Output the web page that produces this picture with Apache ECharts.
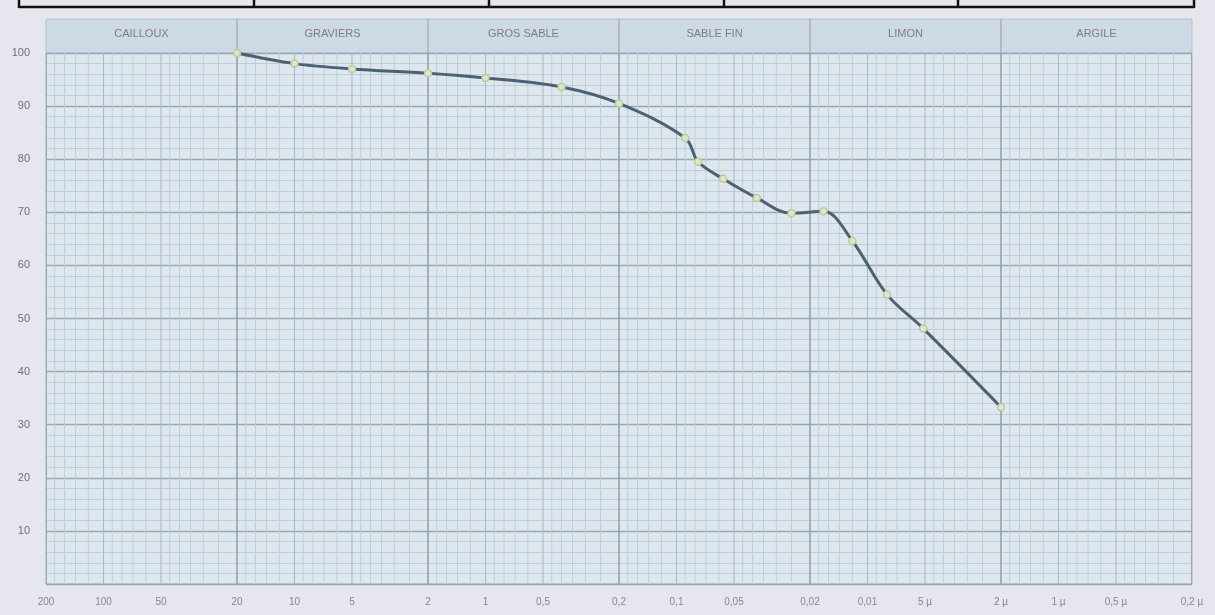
<!DOCTYPE html>
<html>
<head>
<meta charset="utf-8">
<script src="https://cdn.jsdelivr.net/npm/echarts@6/dist/echarts.min.js"></script>
<style>
html,body{margin:0;padding:0;background:#e6e7ee;}
#c{width:1215px;height:615px;}
</style>
</head>
<body>
<div id="c"></div>
<script>
// grain size (mm) and cumulative passing (%)
const sizes = [20, 10, 5, 2, 1, 0.4, 0.2, 0.09, 0.077, 0.057, 0.038, 0.025, 0.017, 0.012, 0.0079, 0.0051, 0.002];
const passing = [100, 98, 97, 96.2, 95.3, 93.6, 90.5, 84, 79.5, 76.3, 72.7, 69.8, 70.2, 64.6, 54.5, 48.1, 33.3];

// zones (upper / lower bound, mm)
const zoneNames = ['CAILLOUX', 'GRAVIERS', 'GROS SABLE', 'SABLE FIN', 'LIMON', 'ARGILE'];
const zoneUpper = [200, 20, 2, 0.2, 0.02, 0.002];
const zoneLower = [20, 2, 0.2, 0.02, 0.002, 0.0002];

// x tick labels
const tickValues = [200, 100, 50, 20, 10, 5, 2, 1, 0.5, 0.2, 0.1, 0.05, 0.02, 0.01, 0.005, 0.002, 0.001, 0.0005, 0.0002];
const tickLabels = ['200', '100', '50', '20', '10', '5', '2', '1', '0,5', '0,2', '0,1', '0,05', '0,02', '0,01', '5 µ', '2 µ', '1 µ', '0,5 µ', '0,2 µ'];

// log-paper mantissas for vertical grid
const mantissas = [1, 1.2, 1.4, 1.6, 1.8, 2, 2.5, 3, 3.5, 4, 4.5, 5, 6, 7, 8, 9];
const decades = [-4, -3, -2, -1, 0, 1, 2];

const XMIN = 0.0002, XMAX = 200;

// [value, level] level 2 = zone boundary, 1 = medium, 0 = light
const gridLines = [];
decades.forEach(function (d) {
  mantissas.forEach(function (m) {
    const v = m * Math.pow(10, d);
    if (v < XMIN * 0.999 || v > XMAX * 1.001) return;
    const lvl = (m === 2) ? 2 : ((m === 1 || m === 5) ? 1 : 0);
    gridLines.push([v, lvl]);
  });
});
const lvlStyle = [
  { stroke: '#c0ced8', lineWidth: 1 },
  { stroke: '#a9bbc8', lineWidth: 1.1 },
  { stroke: '#8ea3b3', lineWidth: 1.6 }
];

function vLine(yLo, yHi, styleFn) {
  return function (params, api) {
    const v = api.value(0);
    const p0 = api.coord([v, yLo]);
    const p1 = api.coord([v, yHi]);
    return { type: 'line', shape: { x1: p0[0], y1: p0[1], x2: p1[0], y2: p1[1] }, style: styleFn(api) };
  };
}

const chart = echarts.init(document.getElementById('c'));
chart.setOption({
  backgroundColor: '#e6e7ee',
  animation: false,
  grid: [
    { left: 46, right: 23, top: 53, bottom: 31, show: true, backgroundColor: '#dfe7ee', borderColor: '#9fb1bf', borderWidth: 1 },
    { left: 46, right: 23, top: 19, height: 34, show: true, backgroundColor: '#cdd9e4', borderColor: '#b3c3cf', borderWidth: 1 }
  ],
  xAxis: [
    { type: 'log', logBase: 10, min: XMIN, max: XMAX, inverse: true, gridIndex: 0,
      axisLine: { show: false }, axisTick: { show: false }, axisLabel: { show: false }, splitLine: { show: false } },
    { type: 'log', logBase: 10, min: XMIN, max: XMAX, inverse: true, gridIndex: 1,
      axisLine: { show: false }, axisTick: { show: false }, axisLabel: { show: false }, splitLine: { show: false } }
  ],
  yAxis: [
    { type: 'value', min: 0, max: 100, interval: 10, gridIndex: 0,
      axisLine: { show: false }, axisTick: { show: false },
      axisLabel: { color: '#6f6f78', fontSize: 11, fontFamily: 'Liberation Sans, Arial', margin: 16,
        formatter: function (v) { return v === 0 ? '' : String(v); } },
      splitLine: { show: true, lineStyle: { color: '#93a8b8', width: 1.4 } },
      minorTick: { show: false, splitNumber: 5 },
      minorSplitLine: { show: true, lineStyle: { color: '#c0cdd8', width: 1 } } },
    { type: 'value', min: 0, max: 1, gridIndex: 1, show: false }
  ],
  series: [
    { // vertical log-paper grid
      type: 'custom', xAxisIndex: 0, yAxisIndex: 0, silent: true, z: 1, clip: true,
      data: gridLines,
      renderItem: vLine(0, 100, function (api) { return lvlStyle[api.value(1)]; })
    },
    { // x tick labels
      type: 'scatter', xAxisIndex: 0, yAxisIndex: 0, symbolSize: 0, silent: true, z: 2, clip: false,
      data: tickValues.map(function (v, i) { return { value: [v, 0], name: tickLabels[i] }; }),
      label: { show: true, position: 'bottom', distance: 13, formatter: '{b}', color: '#6f6f78', fontSize: 10,
        fontFamily: 'Liberation Sans, Arial' }
    },
    { // grading curve
      type: 'line', xAxisIndex: 0, yAxisIndex: 0, z: 5, smooth: 0.35,
      data: sizes.map(function (s, i) { return [s, passing[i]]; }),
      symbol: 'circle', symbolSize: 7,
      lineStyle: { color: '#4b6275', width: 3 },
      itemStyle: { color: '#dfe6c6', borderColor: '#bccb9c', borderWidth: 1.5 }
    },
    { // zone dividers in header
      type: 'custom', xAxisIndex: 1, yAxisIndex: 1, silent: true, z: 1,
      data: zoneUpper.slice(1).map(function (v) { return [v]; }),
      renderItem: vLine(0, 1, function () { return { stroke: '#9cb0be', lineWidth: 1.4 }; })
    },
    { // zone names
      type: 'scatter', xAxisIndex: 1, yAxisIndex: 1, symbolSize: 0, silent: true, z: 3,
      data: zoneNames.map(function (n, i) { return { value: [Math.sqrt(zoneUpper[i] * zoneLower[i]), 0.55], name: n }; }),
      label: { show: true, position: 'inside', formatter: '{b}', color: '#66666f', fontSize: 11,
        fontFamily: 'Liberation Sans, Arial' }
    }
  ],
  graphic: [
    { type: 'line', shape: { x1: 19, y1: 7, x2: 1194, y2: 7 }, style: { stroke: '#111', lineWidth: 2.5 } },
    { type: 'line', shape: { x1: 19, y1: 0, x2: 19, y2: 8 }, style: { stroke: '#111', lineWidth: 2.5 } },
    { type: 'line', shape: { x1: 254, y1: 0, x2: 254, y2: 8 }, style: { stroke: '#111', lineWidth: 2.5 } },
    { type: 'line', shape: { x1: 489, y1: 0, x2: 489, y2: 8 }, style: { stroke: '#111', lineWidth: 2.5 } },
    { type: 'line', shape: { x1: 724, y1: 0, x2: 724, y2: 8 }, style: { stroke: '#111', lineWidth: 2.5 } },
    { type: 'line', shape: { x1: 958, y1: 0, x2: 958, y2: 8 }, style: { stroke: '#111', lineWidth: 2.5 } },
    { type: 'line', shape: { x1: 1194, y1: 0, x2: 1194, y2: 8 }, style: { stroke: '#111', lineWidth: 2.5 } }
  ]
});
</script>
</body>
</html>
